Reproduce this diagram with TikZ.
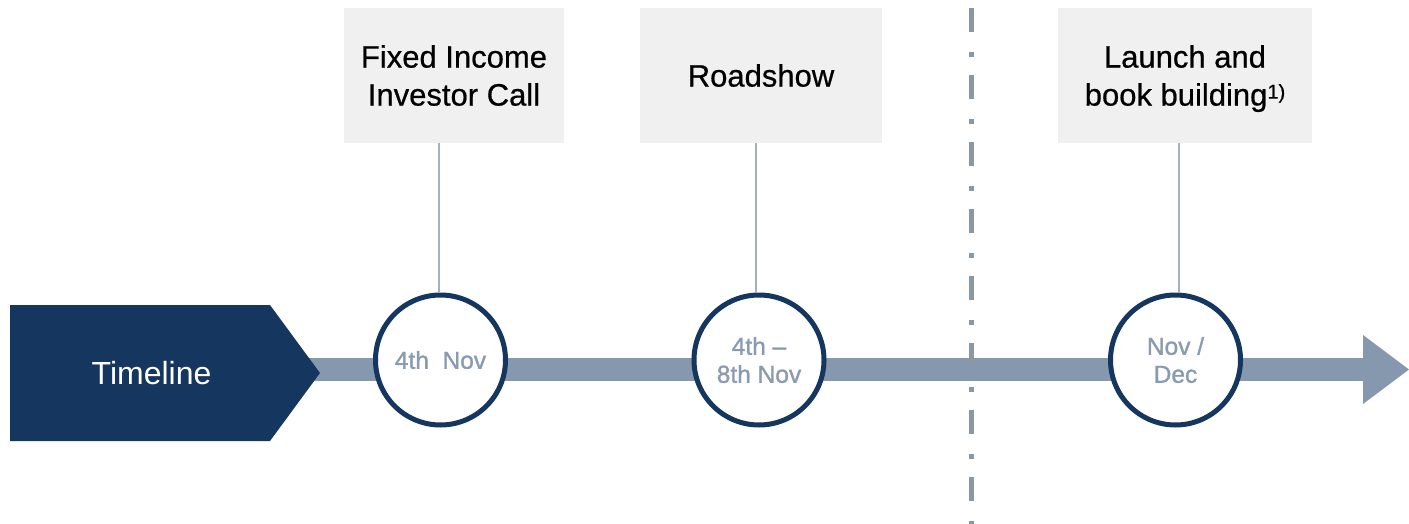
\documentclass[tikz,border=0pt]{standalone}
\usepackage{fontspec}
\setmainfont{Liberation Sans}
\newfontfamily\boxfont{Liberation Sans}[FakeBold=0.6]
\newfontfamily\datefont{Liberation Sans}[FakeBold=1.2]
\usetikzlibrary{arrows.meta}
\definecolor{navy}{HTML}{15375F}
\definecolor{barblue}{HTML}{8598AD}
\definecolor{boxgray}{HTML}{F0F0F0}
\definecolor{dashgray}{HTML}{8A97A5}
\definecolor{datetext}{HTML}{8A9BB0}
\definecolor{linkblue}{HTML}{A3B1C1}
\tikzset{
  eventbox/.style={rectangle, fill=boxgray, minimum height=135pt, inner sep=0pt,
    align=center, text=black, font=\boxfont\fontsize{31}{38}\selectfont},
  datecircle/.style={circle, draw=navy, line width=5pt, fill=white, minimum size=130pt,
    inner sep=0pt, align=center, text=datetext, font=\datefont\fontsize{24.5}{28}\selectfont},
  link/.style={draw=linkblue, line width=1.2pt},
  bar/.style={draw=barblue, line width=23pt},
}
\begin{document}
\begin{tikzpicture}[x=1pt,y=-1pt]
\useasboundingbox (0,0) rectangle (1409,524);
\fill[white] (0,0) rectangle (1409,524);
% main bar and arrow head
\coordinate (barstart) at (300,369.5);
\coordinate (barend) at (1364,369.5);
\draw[bar] (barstart) -- (barend);
\fill[barblue] (1363,335) -- (1409,369.5) -- (1363,404) -- cycle;
% Timeline pentagon
\fill[navy] (10,305) -- (270,305) -- (320,373) -- (270,441) -- (10,441) -- cycle;
\node[text=white, font=\fontsize{32}{36}\selectfont] (tl) at (151.5,373) {Timeline};
% dash-dot separator
\coordinate (sepTop) at (971,8);
\coordinate (sepBot) at (971,524);
\draw[dashgray, line width=5pt, dash pattern=on 24pt off 20pt on 5pt off 18pt] (sepTop) -- (sepBot);
% boxes
\node[eventbox, minimum width=220pt] (b1) at (454,75.5) {Fixed Income\\Investor Call};
\node[eventbox, minimum width=242pt] (b2) at (761,75.5) {Roadshow};
\node[eventbox, minimum width=254pt] (b3) at (1185,75.5) {Launch and\\book buildin\smash{g}\smash{\raisebox{7pt}{\fontsize{20}{20}\selectfont 1)}}};
% circles
\node[datecircle] (c1) at (440.5,360) {4th\ \ Nov};
\node[datecircle] (c2) at (759,360) {4th –\\8th Nov};
\node[datecircle] (c3) at (1175.5,360) {Nov /\\Dec};
% connectors
\draw[link] ([xshift=-1.5pt]b1.south -| c1.north) -- ([xshift=-1.5pt]c1.north);
\draw[link] ([xshift=-3pt]b2.south -| c2.north) -- ([xshift=-3pt]c2.north);
\draw[link] ([xshift=3.5pt]b3.south -| c3.north) -- ([xshift=3.5pt]c3.north);
\end{tikzpicture}
\end{document}
